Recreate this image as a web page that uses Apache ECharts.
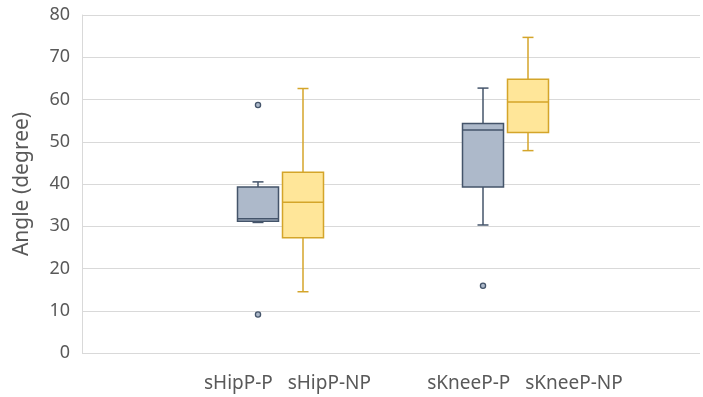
<!DOCTYPE html>
<html>
<head>
<meta charset="utf-8">
<script src="https://cdn.jsdelivr.net/npm/echarts@6/dist/echarts.min.js"></script>
<style>html,body{margin:0;padding:0;background:#fff;}#c{width:703px;height:397px;}</style>
</head>
<body>
<div id="c"></div>
<script>
// ---- data ----
const groups = ['Hip', 'Knee'];
const boxNames = ['sHipP-P', 'sHipP-NP', 'sKneeP-P', 'sKneeP-NP'];
// [min, Q1, median, Q3, max]
const pStats = [[30.9, 31.2, 31.8, 39.3, 40.5], [30.3, 39.3, 52.8, 54.3, 62.7]];
const npStats = [[14.5, 27.3, 35.7, 42.8, 62.6], [47.9, 52.2, 59.4, 64.8, 74.7]];
const pOutliers = [[58.7, 9.1], [15.9]];
const npOutliers = [[], []];
const yTicks = [0, 10, 20, 30, 40, 50, 60, 70, 80];

const labelCats = [boxNames[0] + '   ' + boxNames[1], boxNames[2] + '   ' + boxNames[3]];

const font = 'Noto Sans';
const textColor = '#595959';

function boxRender(offFrac, fill, stroke) {
  return function (params, api) {
    const x = api.value(0);
    const band = api.size([1, 0])[0];
    const off = band * offFrac;
    const half = 20.5;
    const cap = 5.5;
    const p = i => api.coord([x, api.value(i)]);
    const lo = p(1), q1 = p(2), md = p(3), q3 = p(4), hi = p(5);
    const cx = lo[0] + off;
    const ls = { stroke: stroke, lineWidth: 1.5 };
    return {
      type: 'group',
      children: [
        { type: 'line', shape: { x1: cx, y1: hi[1], x2: cx, y2: q3[1] }, style: ls },
        { type: 'line', shape: { x1: cx, y1: q1[1], x2: cx, y2: lo[1] }, style: ls },
        { type: 'line', shape: { x1: cx - cap, y1: hi[1], x2: cx + cap, y2: hi[1] }, style: ls },
        { type: 'line', shape: { x1: cx - cap, y1: lo[1], x2: cx + cap, y2: lo[1] }, style: ls },
        { type: 'rect', shape: { x: cx - half, y: q3[1], width: half * 2, height: q1[1] - q3[1] },
          style: { fill: fill, stroke: stroke, lineWidth: 1.5 } },
        { type: 'line', shape: { x1: cx - half, y1: md[1], x2: cx + half, y2: md[1] }, style: ls }
      ]
    };
  };
}
function outRender(offFrac, fill, stroke) {
  return function (params, api) {
    const band = api.size([1, 0])[0];
    const c = api.coord([api.value(0), api.value(1)]);
    return { type: 'circle', shape: { cx: c[0] + band * offFrac, cy: c[1], r: 2.6 },
      style: { fill: fill, stroke: stroke, lineWidth: 1.3 } };
  };
}

const pBox = pStats.map((s, i) => [i].concat(s));
const npBox = npStats.map((s, i) => [i].concat(s));
const pOut = [], npOut = [];
pOutliers.forEach((arr, i) => arr.forEach(v => pOut.push([i, v])));
npOutliers.forEach((arr, i) => arr.forEach(v => npOut.push([i, v])));

const yBase = { type: 'value', min: yTicks[0], max: yTicks[yTicks.length - 1], interval: 10 };

const chart = echarts.init(document.getElementById('c'), null, { renderer: 'canvas' });
chart.setOption({
  animation: false,
  grid: [
    { left: 82, right: 3, top: 15, bottom: 44 },
    { left: 168, width: 450, top: 15, bottom: 44 },
    { left: 168.75, width: 475, top: 15, bottom: 44 }
  ],
  xAxis: [
    { type: 'category', gridIndex: 0, data: [], show: false },
    { type: 'category', gridIndex: 1, data: groups, show: false },
    { type: 'category', gridIndex: 2, data: labelCats,
      axisLine: { show: false }, axisTick: { show: false },
      axisLabel: { interval: 0, hideOverlap: false, fontFamily: font, fontSize: 19, color: textColor, margin: 21 } }
  ],
  yAxis: [
    Object.assign({}, yBase, {
      gridIndex: 0,
      name: 'Angle (degree)', nameLocation: 'middle', nameGap: 49,
      nameTextStyle: { fontFamily: font, fontSize: 21, color: textColor },
      axisLine: { show: true, lineStyle: { color: '#d9d9d9', width: 1 } },
      axisTick: { show: false },
      splitLine: { lineStyle: { color: '#d9d9d9', width: 1 } },
      axisLabel: { fontFamily: font, fontSize: 18, color: textColor, margin: 12 }
    }),
    Object.assign({}, yBase, { gridIndex: 1, show: false, splitLine: { show: false } }),
    Object.assign({}, yBase, { gridIndex: 2, show: false, splitLine: { show: false } })
  ],
  series: [
    { type: 'custom', xAxisIndex: 1, yAxisIndex: 1, data: pBox, renderItem: boxRender(-0.1, '#adb9ca', '#44546a') },
    { type: 'custom', xAxisIndex: 1, yAxisIndex: 1, data: npBox, renderItem: boxRender(0.1, '#ffe699', '#d4a52a') },
    { type: 'custom', xAxisIndex: 1, yAxisIndex: 1, data: pOut, renderItem: outRender(-0.1, '#adb9ca', '#44546a') },
    { type: 'custom', xAxisIndex: 1, yAxisIndex: 1, data: npOut, renderItem: outRender(0.1, '#ffe699', '#d4a52a') }
  ]
});
</script>
</body>
</html>
